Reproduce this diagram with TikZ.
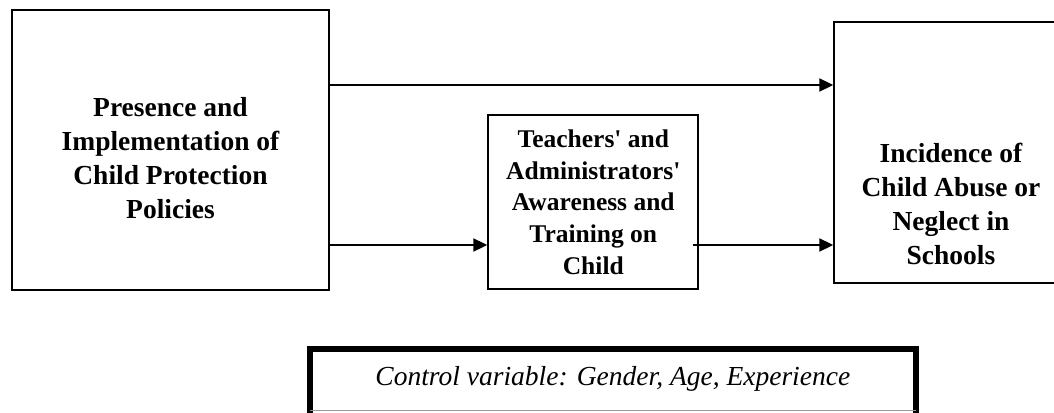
\documentclass[tikz,border=0pt]{standalone}
\usepackage{fontspec}
\setmainfont{Liberation Serif}[Ligatures=TeXOff]
\usetikzlibrary{arrows.meta}
\begin{document}
\begin{tikzpicture}[x=1pt,y=-1pt,
  box/.style={draw=black, line width=2pt, rectangle, inner sep=0pt},
  bigtxt/.style={font=\bfseries\fontsize{27.5}{34}\selectfont, align=center, inner sep=0pt},
  midtxt/.style={font=\bfseries\fontsize{25.5}{31.7}\selectfont, align=center, inner sep=0pt},
  arr/.style={line width=2pt, -{Triangle[length=14pt,width=13pt]}},
  ctrltxt/.style={font=\itshape\fontsize{27.5}{32}\selectfont, inner sep=0pt},
  ctrlline/.style={line width=6pt, line join=miter},
  ctrlbase/.style={draw=gray!80, line width=1pt}]
\useasboundingbox (0,0) rectangle (1054,412);
\clip (0,0) rectangle (1054,412);
% left box
\node[box, minimum width=317.5pt, minimum height=280pt] (pol) at (170.25,150) {};
\node[bigtxt] (poltxt) at (170.5,158) {Presence and\\Implementation of\\Child Protection\\Policies};
% middle box
\node[box, minimum width=210pt, minimum height=173.4pt, midtxt] (aware) at (593.3,202) {Teachers' and\\Administrators'\\Awareness and\\Training on\\Child};
% right box (runs off the right edge)
\node[box, minimum width=234pt, minimum height=261.6pt] (inc) at (951.3,152.5) {};
\node[bigtxt] (inctxt) at (951,204) {Incidence of\\Child Abuse or\\Neglect in\\Schools};
% control box
\node[ctrltxt, minimum width=605.7pt, minimum height=64pt] (ctrl) at (612.85,378.5) {Control variable: Gender, Age, Experience};
\draw[ctrlline] (ctrl.west |- 0,416) -- (ctrl.west |- 0,349) -- (ctrl.east |- 0,349) -- (ctrl.east |- 0,416);
\draw[ctrlbase] (ctrl.west |- 0,410.5) -- (ctrl.east |- 0,410.5);
% connectors
\coordinate (hi) at (0,85);
\coordinate (lo) at (0,245);
\coordinate (mstart) at ([xshift=-6pt]aware.east);
\draw[arr] (pol.east |- hi) -- (inc.west |- hi);
\draw[arr] (pol.east |- lo) -- (aware.west |- lo);
\draw[arr] (mstart |- lo) -- (inc.west |- lo);
\end{tikzpicture}
\end{document}
